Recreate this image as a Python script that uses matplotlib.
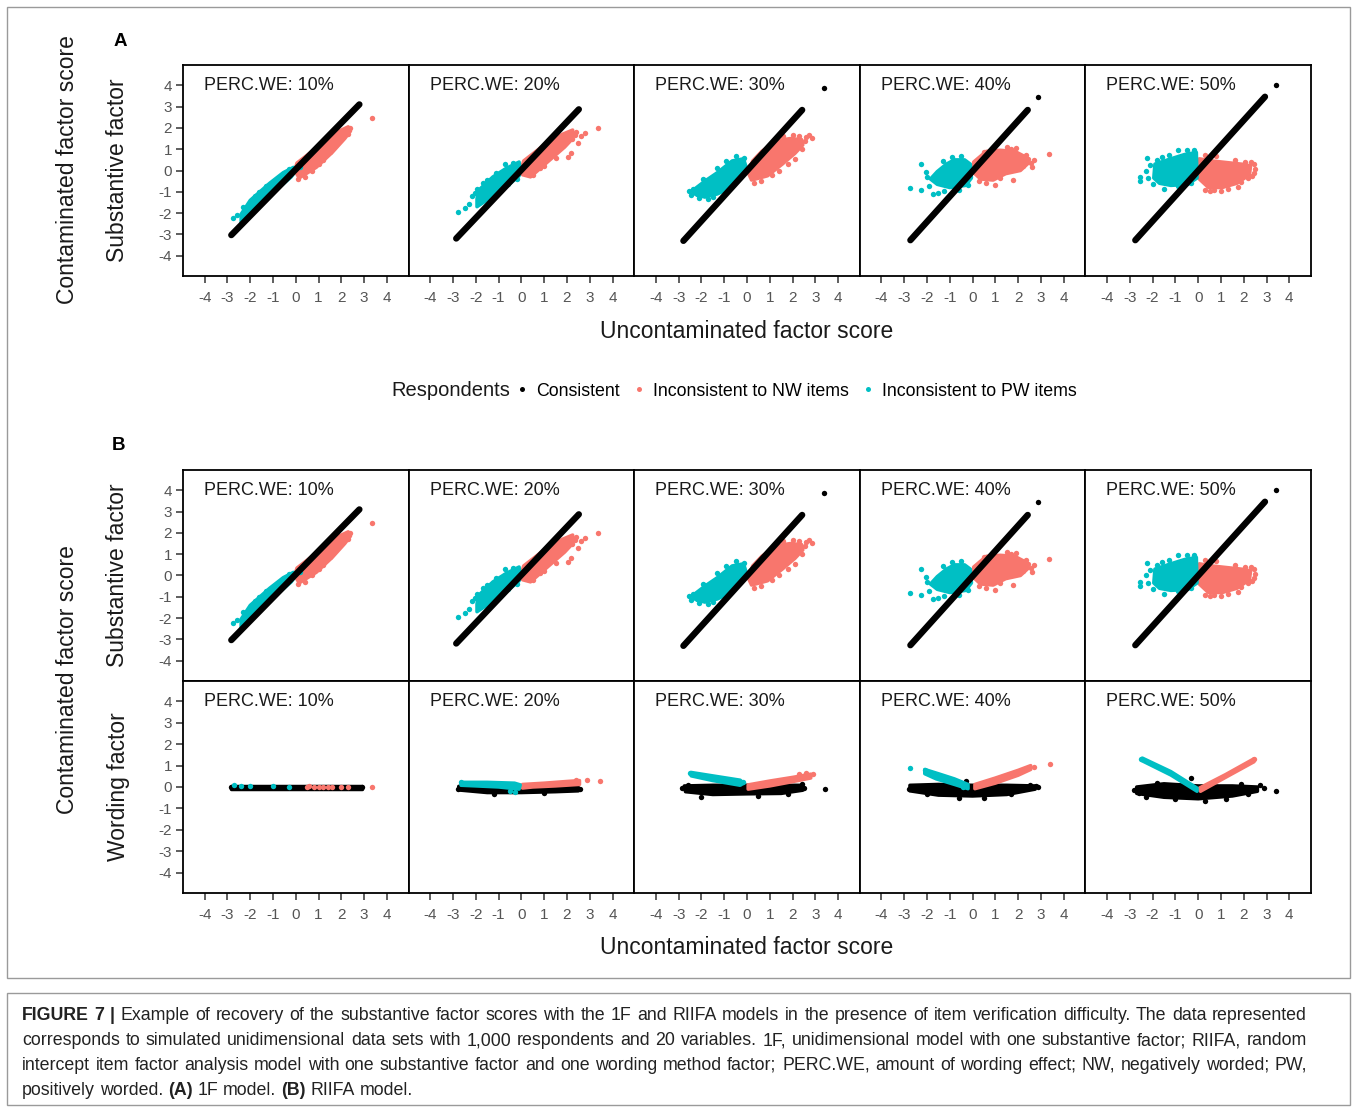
import matplotlib
matplotlib.use("Agg")
import matplotlib.pyplot as plt
from matplotlib.patches import Rectangle
from matplotlib.lines import Line2D

plt.rcParams['font.family'] = ['Liberation Sans', 'DejaVu Sans']
plt.rcParams['axes.unicode_minus'] = False

# ---------------- data ----------------
perc_labels = ["10%", "20%", "30%", "40%", "50%"]

# substantive factor, consistent respondents: ends of the dense diagonal band
sub_black_x0 = [-2.83, -2.86, -2.79, -2.73, -2.76]
sub_black_y0 = [-3.03, -3.19, -3.30, -3.27, -3.27]
sub_black_x1 = [2.79, 2.52, 2.42, 2.42, 2.93]
sub_black_y1 = [3.10, 2.87, 2.84, 2.84, 3.46]
sub_black_pts = [
    [],
    [],
    [(3.37, 3.89)],
    [(2.86, 3.43)],
    [(3.40, 4.01)],
]

# substantive factor, inconsistent to NW items (dense core outline + loose points)
sub_nw_poly = [
    [(-0.05, 0.0), (0.05, 0.35), (0.9, 1.05), (1.8, 1.8), (2.3, 2.05), (2.4, 1.85),
     (2.15, 1.5), (1.6, 0.85), (0.9, 0.15), (0.15, -0.35)],
    [(0.0, 0.1), (0.1, 0.45), (0.94, 1.15), (1.8, 1.7), (2.25, 1.9), (2.25, 1.5),
     (1.9, 1.1), (1.2, 0.45), (0.4, -0.3), (0.05, -0.2)],
    [(0.05, -0.1), (0.25, 0.45), (0.65, 0.9), (1.3, 1.4), (1.9, 1.5), (2.4, 1.45),
     (2.45, 1.2), (2.1, 0.8), (1.55, 0.3), (0.9, -0.25), (0.2, -0.45)],
    [(0.05, 0.4), (0.6, 0.9), (1.2, 0.95), (1.85, 0.9), (2.3, 0.65), (2.45, 0.35),
     (2.1, 0.0), (1.45, -0.15), (0.9, -0.45), (0.35, -0.4), (0.0, -0.05)],
    [(0.05, 0.55), (0.6, 0.45), (1.2, 0.38), (1.9, 0.3), (2.3, 0.22), (2.25, -0.2),
     (1.7, -0.6), (1.05, -0.8), (0.45, -0.8), (0.05, -0.4)],
]
sub_nw_pts = [
    [(3.33, 2.45), (2.4, 2.0), (2.2, 1.95), (1.95, 1.45), (1.5, 0.85), (1.2, 0.5),
     (0.7, 0.0), (0.4, -0.3), (0.3, 0.3), (2.3, 1.7), (1.0, 0.3), (0.1, -0.4)],
    [(3.35, 2.01), (2.77, 1.74), (2.18, 0.80), (2.04, 0.65), (2.4, 1.82), (2.6, 1.6),
     (2.5, 1.3), (1.5, 0.6), (0.8, 0.1), (0.5, -0.2), (2.2, 1.5), (1.7, 1.4), (0.3, 0.4),
     (2.35, 1.65), (1.0, 0.2)],
    [(2.86, 1.51), (2.71, 1.66), (2.55, 1.4), (2.4, 1.0), (2.3, 1.6), (1.95, 1.3),
     (2.1, 0.55), (1.8, 0.3), (1.4, 0.0), (1.1, -0.2), (0.6, -0.5), (0.3, -0.6),
     (1.6, 1.6), (1.3, 1.3), (2.6, 1.55), (2.0, 1.65)],
    [(3.37, 0.76), (1.77, -0.45), (2.57, 0.33), (2.7, 0.5), (2.35, 0.75), (1.91, 1.05),
     (2.2, 0.2), (1.2, -0.35), (0.6, -0.6), (1.5, 1.1), (2.45, 0.55), (0.3, -0.5),
     (1.0, -0.7), (2.6, 0.15), (1.7, 1.0), (0.5, 0.85)],
    [(2.45, 0.3), (2.5, 0.05), (2.35, -0.25), (2.2, -0.35), (1.75, -0.76), (1.3, -0.85),
     (1.0, -0.95), (0.5, -0.95), (0.3, -0.9), (2.05, 0.4), (2.3, 0.4), (1.6, 0.5),
     (0.8, 0.7), (0.3, 0.75), (2.45, -0.1), (1.9, -0.55), (0.7, -0.9)],
]

# substantive factor, inconsistent to PW items
sub_pw_poly = [
    [(-2.4, -2.05), (-2.0, -1.4), (-1.15, -0.6), (-0.55, -0.1), (-0.1, 0.15),
     (0.0, 0.0), (-0.2, -0.3), (-0.9, -0.95), (-2.0, -2.1), (-2.4, -2.5)],
    [(-1.95, -1.35), (-1.9, -0.95), (-1.25, -0.3), (-0.67, 0.1), (-0.1, 0.4),
     (-0.05, 0.0), (-0.1, -0.25), (-0.81, -0.9), (-1.6, -1.45), (-1.95, -1.7)],
    [(-2.4, -0.95), (-1.85, -0.5), (-1.3, -0.1), (-0.65, 0.45), (-0.15, 0.55),
     (-0.05, 0.2), (-0.3, -0.35), (-0.8, -0.85), (-1.3, -1.1), (-1.85, -1.25),
     (-2.3, -1.1)],
    [(-1.85, -0.4), (-1.55, -0.05), (-1.15, 0.3), (-0.8, 0.5), (-0.35, 0.5),
     (-0.1, 0.3), (-0.05, -0.35), (-0.3, -0.7), (-1.0, -0.8), (-1.55, -0.65)],
    [(-1.95, -0.35), (-1.9, 0.3), (-1.2, 0.55), (-0.6, 0.75), (-0.08, 0.85),
     (-0.05, -0.35), (-0.45, -0.65), (-1.2, -0.7), (-1.7, -0.6)],
]
sub_pw_pts = [
    [(-2.76, -2.25), (-2.6, -2.1), (-2.3, -1.7), (-1.9, -1.4), (-1.6, -1.0), (-1.3, -0.75),
     (-0.9, -0.5), (-0.5, -0.15), (-0.3, 0.05), (0.2, 0.15), (-1.8, -1.2)],
    [(-2.78, -1.94), (-2.49, -1.78), (-2.3, -1.55), (-2.15, -1.2), (-2.05, -1.05),
     (-1.5, -0.45), (-1.1, -0.1), (-0.7, 0.3), (-0.35, 0.35), (-1.3, -1.2), (-0.6, -0.65),
     (-0.2, -0.4), (-1.95, -0.85), (-1.7, -0.6)],
    [(-2.54, -0.97), (-2.35, -0.85), (-2.2, -1.1), (-1.95, -0.4), (-1.88, -0.45),
     (-2.1, -1.3), (-1.7, -1.35), (-1.3, 0.1), (-0.9, 0.45), (-0.5, 0.7), (-0.15, 0.6),
     (-1.5, -1.25), (-2.45, -1.15), (-0.7, 0.35)],
    [(-2.76, -0.84), (-2.25, 0.29), (-2.25, -0.92), (-1.74, -1.08), (-1.5, -1.05),
     (-2.0, -0.3), (-1.3, 0.45), (-0.9, 0.65), (-0.5, 0.7), (-0.2, -0.7), (-0.6, -0.9),
     (-1.9, -0.75), (-2.05, -0.05), (-1.25, -0.95)],
    [(-2.54, -0.29), (-2.55, -0.5), (-2.25, 0.57), (-1.8, 0.5), (-1.3, 0.75), (-0.9, 0.95),
     (-0.5, 0.95), (-2.0, -0.65), (-1.5, -0.85), (-0.9, -0.75), (-0.3, -0.6), (-2.3, 0.0),
     (-2.2, -0.35), (-2.1, 0.25), (-1.6, 0.65), (-0.2, 0.95)],
]

# wording factor (RIIFA), consistent respondents
wrd_black_poly = [
    [(-2.83, 0.06), (2.9, 0.06), (2.9, -0.08), (-2.83, -0.08)],
    [(-2.75, 0.03), (-1.5, 0.05), (0.0, 0.02), (1.5, 0.0), (2.5, -0.02), (2.5, -0.18),
     (1.5, -0.22), (0.0, -0.26), (-1.5, -0.26), (-2.75, -0.14)],
    [(-2.75, 0.05), (-1.5, 0.08), (0.0, 0.08), (1.5, 0.08), (2.45, 0.08), (2.45, -0.15),
     (1.5, -0.3), (0.0, -0.32), (-1.5, -0.35), (-2.7, -0.22)],
    [(-2.75, 0.08), (-1.5, 0.12), (0.0, 0.08), (1.5, 0.08), (2.75, 0.05), (2.75, -0.1),
     (1.5, -0.35), (0.0, -0.42), (-1.5, -0.38), (-2.75, -0.18)],
    [(-2.7, 0.0), (-1.5, 0.15), (0.0, 0.05), (1.5, 0.05), (2.6, 0.0), (2.6, -0.2),
     (1.5, -0.42), (0.0, -0.55), (-1.5, -0.48), (-2.7, -0.3)],
]
wrd_black_pts = [
    [(-2.83, 0.0), (2.9, 0.0)],
    [(-2.78, -0.1), (2.55, -0.1), (1.0, -0.3), (-1.2, -0.35), (2.3, 0.05), (-0.5, 0.08)],
    [(3.41, -0.1), (-2.85, -0.05), (2.5, -0.05), (-2.0, -0.45), (0.5, -0.4), (1.8, -0.35),
     (-1.0, 0.15), (2.4, 0.15), (-2.6, 0.1)],
    [(2.87, 0.0), (-2.8, -0.1), (-2.0, -0.35), (-0.6, -0.5), (0.5, -0.5), (1.7, -0.35),
     (2.5, 0.1), (-1.0, 0.2), (-0.3, 0.3), (2.8, 0.05)],
    [(3.43, -0.2), (-2.82, -0.15), (-2.6, -0.3), (2.9, -0.05), (2.7, 0.1), (-0.3, 0.4),
     (-1.0, -0.55), (0.3, -0.65), (1.2, -0.55), (2.2, -0.35), (-1.8, 0.2), (-2.3, -0.45),
     (-0.6, 0.2), (1.9, 0.15)],
]

# wording factor, inconsistent to NW items
wrd_nw_poly = [
    [],
    [(0.05, 0.12), (1.0, 0.18), (2.0, 0.26), (2.55, 0.3), (2.55, 0.12), (1.5, 0.05),
     (0.5, 0.0), (0.05, -0.05)],
    [(0.05, 0.1), (1.0, 0.28), (2.0, 0.45), (2.8, 0.6), (2.8, 0.42), (2.0, 0.25),
     (1.0, 0.05), (0.05, -0.1)],
    [(0.1, 0.12), (1.0, 0.42), (2.0, 0.78), (2.55, 1.0), (2.55, 0.82), (2.0, 0.55),
     (1.0, 0.18), (0.1, -0.08)],
    [(0.05, -0.05), (1.2, 0.58), (2.45, 1.32), (2.45, 1.18), (1.2, 0.45), (0.1, -0.2)],
]
wrd_nw_pts = [
    [(0.5, 0.0), (0.8, 0.02), (1.0, 0.0), (1.2, 0.0), (1.6, 0.02), (2.0, 0.0), (2.3, 0.02),
     (3.35, 0.02), (0.6, 0.03), (1.4, -0.02)],
    [(2.9, 0.33), (3.43, 0.3), (2.4, 0.35)],
    [(2.88, 0.6), (2.6, 0.65), (2.3, 0.6)],
    [(3.4, 1.07), (2.7, 0.95)],
    [(2.46, 1.3)],
]

# wording factor, inconsistent to PW items
wrd_pw_poly = [
    [],
    [(-2.65, 0.22), (-1.5, 0.22), (-0.3, 0.18), (-0.05, 0.1), (-0.1, -0.1), (-1.0, 0.0),
     (-2.0, 0.05), (-2.65, 0.08)],
    [(-2.45, 0.68), (-1.5, 0.52), (-0.3, 0.32), (-0.15, 0.18), (-0.3, 0.08), (-1.5, 0.3),
     (-2.45, 0.52)],
    [(-2.1, 0.82), (-1.5, 0.62), (-0.8, 0.38), (-0.2, 0.12), (-0.2, -0.08), (-0.8, 0.12),
     (-1.6, 0.38), (-2.1, 0.62)],
    [(-2.45, 1.35), (-1.2, 0.72), (-0.05, -0.05), (-0.05, -0.2), (-1.2, 0.56), (-2.45, 1.22)],
]
wrd_pw_pts = [
    [(-2.7, 0.08), (-2.0, 0.03), (-1.0, 0.03), (-0.3, 0.02), (-2.4, 0.05)],
    [(-2.65, 0.25), (-0.5, -0.2), (-0.3, -0.25)],
    [(-2.5, 0.64), (-0.16, 0.22)],
    [(-2.76, 0.88), (-2.1, 0.8), (-0.4, 0.0)],
    [(-2.49, 1.33)],
]

caption_lines = [
    [("FIGURE 7 |", "bold"), ("Example of recovery of the substantive factor scores with the 1F and RIIFA "
      "models in the presence of item verification difficulty. The data represented", "normal")],
    [("corresponds to simulated unidimensional data sets with 1,000 respondents and 20 variables. "
      "1F, unidimensional model with one substantive factor; RIIFA, random", "normal")],
    [("intercept item factor analysis model with one substantive factor and one wording method "
      "factor; PERC.WE, amount of wording effect; NW, negatively worded; PW,", "normal")],
    [("positively worded.", "normal"), ("(A)", "bold"), ("1F model.", "normal"), ("(B)", "bold"),
     ("RIIFA model.", "normal")],
]

# ---------------- styling ----------------
BLACK = "#000000"
NW_COL = "#F8766D"
PW_COL = "#00BFC4"
TICK_GREY = "#555555"

W, H = 1357, 1110
fig = plt.figure(figsize=(W / 100, H / 100), dpi=100)


def px_axes(left, top, width, height):
    return fig.add_axes([left / W, 1 - (top + height) / H, width / W, height / H])


def cloud(ax, poly, pts, col, z):
    if poly:
        ax.fill([p[0] for p in poly], [p[1] for p in poly], facecolor=col, edgecolor=col,
                linewidth=2.5, joinstyle="round", zorder=z)
    if pts:
        ax.scatter([p[0] for p in pts], [p[1] for p in pts], s=15, color=col,
                   linewidths=0, zorder=z)


def style_axes(ax, i, label, show_x):
    ax.set_xlim(-4.95, 4.95)
    ax.set_ylim(-4.95, 4.95)
    ax.set_xticks(range(-4, 5))
    ax.set_yticks(range(-4, 5))
    for sp in ax.spines.values():
        sp.set_linewidth(1.3)
        sp.set_color("black")
    ax.tick_params(direction="out", length=5, width=1.1, color="#333333",
                   labelcolor=TICK_GREY, labelsize=11)
    ax.tick_params(axis="x", pad=6, bottom=show_x, labelbottom=show_x)
    ax.tick_params(axis="y", pad=3, left=(i == 0), labelleft=(i == 0))
    ax.text(0.093, 0.905, "PERC.WE: " + label, transform=ax.transAxes, fontsize=13,
            color="#1a1a1a", ha="left", va="center")


panel_left = 183
panel_w = 225.6


def substantive_row(top, height, show_x):
    for i in range(5):
        ax = px_axes(panel_left + i * panel_w, top, panel_w, height)
        cloud(ax, sub_nw_poly[i], sub_nw_pts[i], NW_COL, 2)
        cloud(ax, sub_pw_poly[i], sub_pw_pts[i], PW_COL, 2)
        ax.plot([sub_black_x0[i], sub_black_x1[i]], [sub_black_y0[i], sub_black_y1[i]],
                color=BLACK, lw=4.6, solid_capstyle="round", zorder=3)
        cloud(ax, None, sub_black_pts[i], BLACK, 3)
        style_axes(ax, i, perc_labels[i], show_x)


def wording_row(top, height):
    for i in range(5):
        ax = px_axes(panel_left + i * panel_w, top, panel_w, height)
        cloud(ax, wrd_black_poly[i], wrd_black_pts[i], BLACK, 2)
        cloud(ax, wrd_nw_poly[i], wrd_nw_pts[i], NW_COL, 3)
        cloud(ax, wrd_pw_poly[i], wrd_pw_pts[i], PW_COL, 3)
        style_axes(ax, i, perc_labels[i], True)


# panel A (1F)
substantive_row(65, 211, True)
# panel B (RIIFA)
substantive_row(470, 211, False)
wording_row(681, 212)

lab = dict(fontsize=16.5, color="#1a1a1a", ha="center", va="center")
fig.text(747 / W, 1 - 331 / H, "Uncontaminated factor score", **lab)
fig.text(747 / W, 1 - 948 / H, "Uncontaminated factor score", **lab)
fig.text(118 / W, 1 - 170 / H, "Substantive factor", rotation=90, **lab)
fig.text(68 / W, 1 - 170 / H, "Contaminated factor score", rotation=90, **lab)
fig.text(118 / W, 1 - 575 / H, "Substantive factor", rotation=90, **lab)
fig.text(118 / W, 1 - 787 / H, "Wording factor", rotation=90, **lab)
fig.text(68 / W, 1 - 680 / H, "Contaminated factor score", rotation=90, **lab)

fig.text(114 / W, 1 - 41 / H, "A", fontsize=13.5, fontweight="bold", ha="left", va="center")
fig.text(112 / W, 1 - 446 / H, "B", fontsize=13.5, fontweight="bold", ha="left", va="center")

# legend
fig.text(391 / W, 1 - 391 / H, "Respondents", fontsize=14.5, color="#1a1a1a",
         ha="left", va="center")
handles = [Line2D([], [], ls="", marker="o", ms=3.6, mec="none", color=c)
           for c in (BLACK, NW_COL, PW_COL)]
fig.legend(handles, ["Consistent", "Inconsistent to NW items", "Inconsistent to PW items"],
           loc="center left", bbox_to_anchor=(517 / W, 1 - 391 / H), ncol=3, frameon=False,
           fontsize=12.8, handlelength=0.6, handletextpad=0.5, columnspacing=0.75,
           borderaxespad=0, borderpad=0)

# frames
fig.add_artist(Rectangle((7 / W, 1 - 978 / H), 1343 / W, 971 / H, transform=fig.transFigure,
                         fill=False, edgecolor="#9a9a9a", lw=1))
fig.add_artist(Rectangle((7 / W, 1 - 1105 / H), 1343 / W, 112 / H, transform=fig.transFigure,
                         fill=False, edgecolor="#9a9a9a", lw=1))

# caption, justified like the journal layout
renderer = fig.canvas.get_renderer()
cap_fs = 12.8
cap_x0, cap_x1 = 22, 1307
t2 = fig.text(0, 0, "a a", fontsize=cap_fs)
t1 = fig.text(0, 0, "aa", fontsize=cap_fs)
space_w = t2.get_window_extent(renderer).width - t1.get_window_extent(renderer).width
t2.remove()
t1.remove()

for k, runs in enumerate(caption_lines):
    y = 1 - (1020 + k * 25) / H
    words = []
    for txt, wt in runs:
        for w in txt.split():
            words.append((w, wt))
    arts = [fig.text(0, y, w, fontsize=cap_fs, fontweight=wt, color="#222222", va="baseline")
            for w, wt in words]
    widths = [a.get_window_extent(renderer).width for a in arts]
    if k < len(caption_lines) - 1:
        gap = max((cap_x1 - cap_x0 - sum(widths)) / (len(words) - 1), space_w * 0.6)
    else:
        gap = space_w
    x = cap_x0
    for a, wd in zip(arts, widths):
        a.set_x(x / W)
        x += wd + gap

fig.savefig("out.png", dpi=100)
